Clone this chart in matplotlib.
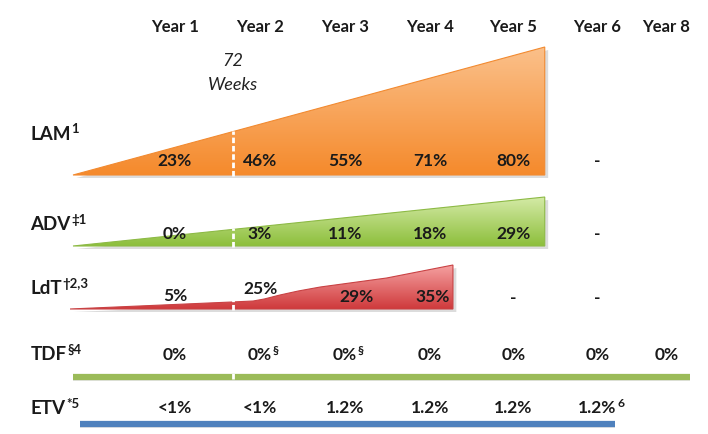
import numpy as np
import matplotlib.pyplot as plt
from matplotlib.patches import Polygon
from matplotlib.colors import LinearSegmentedColormap

plt.rcParams['font.family'] = ['Lato', 'DejaVu Sans']

# column headers and their x positions (in years)
years = ['Year 1', 'Year 2', 'Year 3', 'Year 4', 'Year 5', 'Year 6', 'Year 8']
year_x = [1, 2, 3, 4, 4.98, 5.97, 6.78]

# rows: label, superscript, baseline (px from top)
rows = ['LAM', 'ADV', 'LdT', 'TDF', 'ETV']
row_sup = ['1', '\u20211', '\u20202,3', '\u00a74', '*5']
row_y = [134, 225, 289, 354, 409]

# values per row (text, superscript)
lam_vals = ['23%', '46%', '55%', '71%', '80%', '-']
adv_vals = ['0%', '3%', '11%', '18%', '29%', '-']
ldt_vals = ['5%', '25%', '29%', '35%', '-', '-']
ldt_x = [1, 2, 3.14, 4.03, 4.98, 5.97]
ldt_ty = [296, 289, 297, 297, 298, 298]
tdf_vals = ['0%', '0%', '0%', '0%', '0%', '0%', '0%']
tdf_sup = ['', '\u00a7', '\u00a7', '', '', '', '']
etv_vals = ['<1%', '<1%', '1.2%', '1.2%', '1.2%', '1.2%']
etv_sup = ['', '', '', '', '', '6']

# wedge outlines: x in years, height (px) above base
lam_x = [-0.2, 5.35]
lam_h = [0, 128]
adv_x = [-0.2, 5.35]
adv_h = [0, 49]
ldt_x_shape = [-0.235, 1.67, 1.92, 2.05, 2.235, 2.45, 2.71, 3.49, 4.27]
ldt_h = [0, 7, 8, 10, 14, 18, 22, 31, 44]
week72 = 1.68

fig = plt.figure(figsize=(7.08, 4.34), dpi=100)
ax = fig.add_axes([0, 0, 1, 1])


def wedge(xs, hs, base, light, dark, edge):
    pts = [(x, base - h) for x, h in zip(xs, hs)]
    pts = pts + [(xs[-1], base)]
    shadow = Polygon([(x + 0.04, y + 3) for x, y in pts], closed=True,
                     fc='#bbbbbb', ec='none', alpha=0.5, zorder=1)
    ax.add_patch(shadow)
    poly = Polygon(pts, closed=True, fc='none', ec=edge, lw=0.8, zorder=3)
    ax.add_patch(poly)
    cmap = LinearSegmentedColormap.from_list('g', [light, dark])
    grad = np.linspace(0, 1, 100).reshape(-1, 1)
    im = ax.imshow(grad, cmap=cmap, extent=(xs[0], xs[-1], base, base - max(hs)),
                   origin='upper', aspect='auto', zorder=2)
    im.set_clip_path(poly)


def label(x, y, s, sup='', size=12.5, ha='center'):
    t = ax.text(x, y, s, ha=ha, va='center', fontsize=size, fontweight='bold',
                color='#1a1a1a', zorder=5)
    if sup:
        ax.annotate(sup, xy=(1, 1.0), xycoords=t, xytext=(0.3, 1.5),
                    textcoords='offset points', ha='left', va='top',
                    fontsize=size * 0.7, fontweight='bold', color='#1a1a1a', zorder=5)
    return t


wedge(lam_x, lam_h, 175, '#fbc08a', '#f58a2c', '#f28a30')
wedge(adv_x, adv_h, 246, '#d4eaa6', '#8dbf3c', '#8dba45')
wedge(ldt_x_shape, ldt_h, 309, '#f5a0a0', '#cf3a3c', '#c94244')

# TDF and ETV lines
ax.plot([-0.2, 7.06], [378, 378], color='#c8c8c8', lw=4, alpha=0.6,
        solid_capstyle='butt', zorder=1)
ax.plot([-0.2, 7.06], [377, 377], color='#9bbb59', lw=4.5, solid_capstyle='butt', zorder=2)
ax.plot([-0.12, 6.18], [425, 425], color='#c8c8c8', lw=4, alpha=0.6,
        solid_capstyle='butt', zorder=1)
ax.plot([-0.12, 6.18], [424, 424], color='#4f81bd', lw=4.5, solid_capstyle='butt', zorder=2)

# 72 weeks dashed markers
for base, h in [(175, 128 * (week72 + 0.2) / 5.55), (246, 49 * (week72 + 0.2) / 5.55),
                (309, 8), (378, 4)]:
    ax.plot([week72, week72], [base + 1, base - h - 1], color='white', lw=2,
            ls=(0, (2, 1)), zorder=4)
ax.text(week72, 61, '72', ha='center', va='center', fontsize=13, style='italic', color='#222222')
ax.text(week72, 85, 'Weeks', ha='center', va='center', fontsize=13, style='italic', color='#222222')

# headers
for x, s in zip(year_x, years):
    label(x, 27, s, size=12)

# row labels
for r, sp, y in zip(rows, row_sup, row_y):
    label(-0.7, y, r, sp, size=13.5, ha='left')

for x, s in zip(year_x, lam_vals):
    label(x, 161, s)
for x, s in zip(year_x, adv_vals):
    label(x, 234, s)
for x, s, y in zip(ldt_x, ldt_vals, ldt_ty):
    label(x, y, s)
for x, s, sp in zip(year_x, tdf_vals, tdf_sup):
    label(x, 355, s, sp)
for x, s, sp in zip(year_x, etv_vals, etv_sup):
    label(x, 408, s, sp)

ax.set_xlim(1 - 175 / 85, 1 + 533 / 85)
ax.set_ylim(434, 0)
ax.axis('off')

fig.savefig('out.png', dpi=100)
